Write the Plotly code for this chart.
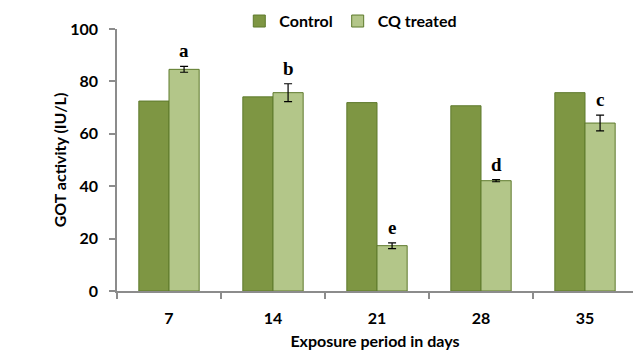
import plotly.graph_objects as go

days = ["7", "14", "21", "28", "35"]
control = [72.5, 74.1, 71.9, 70.7, 75.7]
treated = [84.6, 75.7, 17.3, 42.1, 64.1]
treated_err = [1.1, 3.4, 1.1, 0.4, 3.0]
letters = ["a", "b", "e", "d", "c"]
y_ticks = [0, 20, 40, 60, 80, 100]

dark = "#7E9643"
light = "#B3C689"
edge = "#5E7A2C"
font_sans = "Lato"

fig = go.Figure()
fig.add_trace(go.Bar(x=days, y=control, name="Control",
                     marker=dict(color=dark, line=dict(color=edge, width=1))))
fig.add_trace(go.Bar(x=days, y=treated, name="CQ treated",
                     marker=dict(color=light, line=dict(color=edge, width=1)),
                     error_y=dict(type="data", array=treated_err, color="black",
                                  thickness=1.2, width=4)))

for i, (v, e, l) in enumerate(zip(treated, treated_err, letters)):
    fig.add_annotation(x=i, y=v + e, text="<b>%s</b>" % l, showarrow=False,
                       xref="x", yref="y",
                       xshift=15, yshift=3, yanchor="bottom",
                       font=dict(family="Liberation Serif", size=19, color="black"))

fig.update_layout(
    width=633, height=352,
    margin=dict(l=117, r=0, t=29, b=61, autoexpand=False),
    plot_bgcolor="white", paper_bgcolor="white",
    barmode="group", bargap=0.42, bargroupgap=0,
    showlegend=True,
    legend=dict(orientation="h", x=0.237, y=0.940, xref="paper", yref="container",
                xanchor="left", yanchor="middle",
                font=dict(family=font_sans, size=16, color="black", weight="bold"),
                itemwidth=30, bgcolor="rgba(0,0,0,0)", traceorder="normal"),
    font=dict(family=font_sans, color="black"),
)
fig.update_yaxes(range=[0, 100], tickvals=y_ticks, showgrid=False, showline=True,
                 linecolor="#8C8C8C", linewidth=1.5, ticks="outside", ticklen=6,
                 tickcolor="#8C8C8C", tickwidth=1.5, zeroline=False,
                 ticklabelstandoff=8,
                 tickfont=dict(family=font_sans, size=16, color="black", weight="bold"),
                 title=dict(text="GOT activity (IU/L)", standoff=0,
                            font=dict(family=font_sans, size=16, color="black", weight="bold")))
fig.update_xaxes(type="category", range=[-0.5, 4.4615], showgrid=False, showline=True,
                 linecolor="#8C8C8C", linewidth=1.5, ticks="outside", ticklen=6,
                 tickcolor="#8C8C8C", tickwidth=1.5, tickson="boundaries",
                 ticklabelstandoff=12,
                 tickfont=dict(family=font_sans, size=16, color="black", weight="bold"),
                 title=dict(text="Exposure period in days", standoff=10,
                            font=dict(family=font_sans, size=16, color="black", weight="bold")))

fig.write_html("out.html")
